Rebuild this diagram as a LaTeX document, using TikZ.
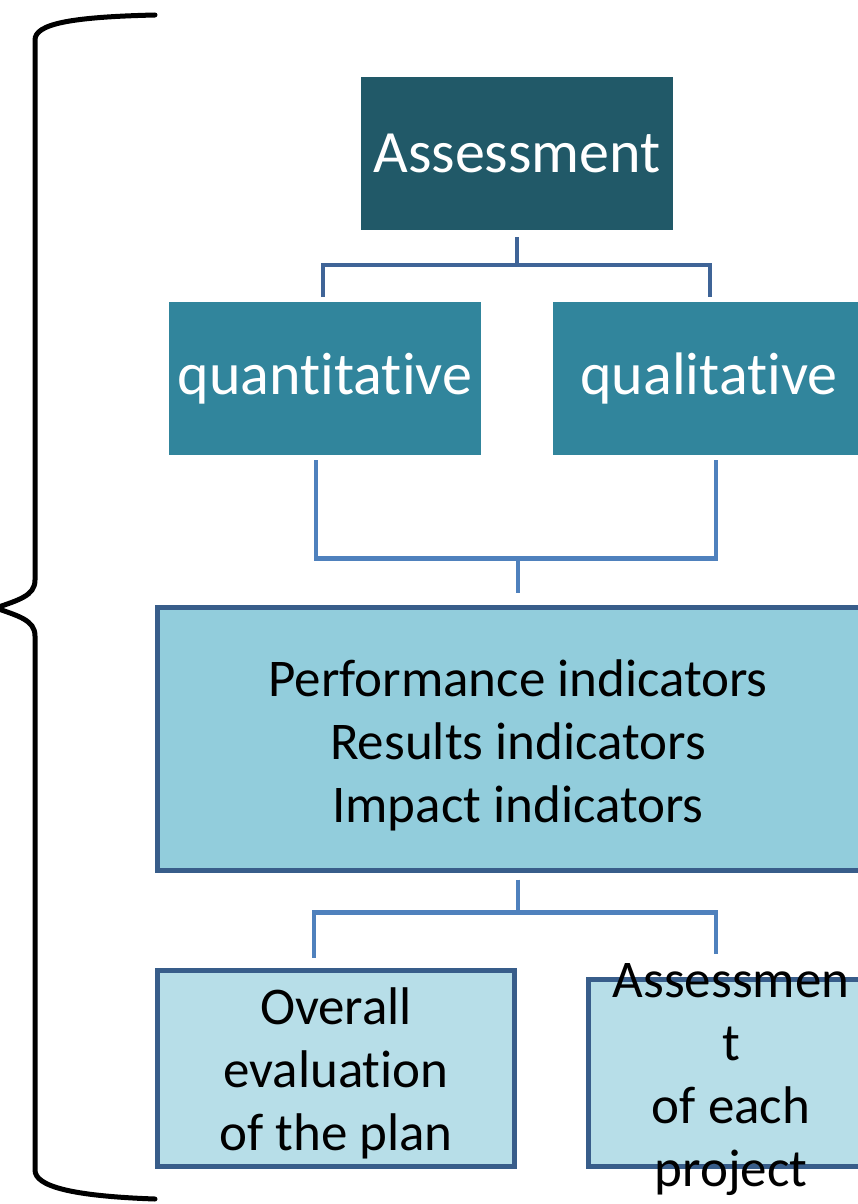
\documentclass[tikz,border=0pt]{standalone}
\usepackage{fontspec}
\setmainfont[Ligatures=NoCommon]{Carlito}
\usetikzlibrary{calc}
\definecolor{darkteal}{HTML}{215968}
\definecolor{midteal}{HTML}{31859C}
\definecolor{paleblue}{HTML}{92CDDC}
\definecolor{lightblue}{HTML}{B7DEE8}
\definecolor{edgeblue}{HTML}{385D8A}
\definecolor{linkdark}{HTML}{3F6497}
\definecolor{linkblue}{HTML}{4F81BD}
\begin{document}
\begin{tikzpicture}[x=1pt,y=-1pt,
  box/.style={rectangle, inner sep=0pt, outer sep=0pt, anchor=north west, align=center},
  headbox/.style={box, fill=darkteal, text=white, font=\fontsize{60}{72}\selectfont},
  kindbox/.style={box, fill=midteal, text=white, font=\fontsize{60}{72}\selectfont},
  listbox/.style={box, fill=paleblue, draw=edgeblue, line width=5pt},
  leafbox/.style={box, fill=lightblue, draw=edgeblue, line width=5pt},
  bodytext/.style={align=center, inner sep=0pt, font=\fontsize{53}{63}\selectfont},
  link/.style={line width=4.5pt, linkblue},
  bracepen/.style={line width=5pt, black, line cap=round}]
\useasboundingbox (0,0) rectangle (858,1204);
\clip (0,0) rectangle (858,1204);

% boxes
\node[headbox, minimum width=312pt, minimum height=153pt] (assess) at (361,77) {Assessment};
\node[kindbox, minimum width=312pt, minimum height=153pt] (quant) at (169,302) {quantitative};
\node[kindbox, minimum width=312pt, minimum height=153pt] (qual) at (553,302) {qualitative};
\node[listbox, minimum width=721pt, minimum height=263pt] (perf) at (157.5,607.5) {};
\node[bodytext] (perftext) at ($(perf.center)+(0,6)$)
  {Performance indicators\\Results indicators\\Impact indicators};
\node[leafbox, minimum width=357pt, minimum height=196pt] (overall) at (157.5,970.5) {};
\node[bodytext] (overalltext) at ($(overall.center)+(0,5)$)
  {Overall\\evaluation\\of the plan};
\node[leafbox, minimum width=291pt, minimum height=187pt] (proj) at (588.5,979.5) {};
\node[bodytext] (projtext) at ($(proj.center)+(-3,7)$)
  {Assessmen\\t\\of each\\project};

% connectors
\draw[link, linkdark] ($(assess.south)+(0,7)$) -- ($(assess.south)+(0,35)$) coordinate (topjoin);
\draw[link, linkdark] ($(quant.north)+(-2,-5)$) |- (topjoin) -| ($(qual.north)+(1,-5)$);

\coordinate (midjoin) at ($(perf.north)+(0,-49)$);
\draw[link] ($(quant.south)+(-9,5)$) |- (midjoin) -| ($(qual.south)+(7,5)$);
\draw[link] (midjoin) -- ($(perf.north)+(0,-15)$);

\coordinate (lowjoin) at ($(perf.south)+(0,42)$);
\draw[link] ($(perf.south)+(0,9)$) -- (lowjoin);
\draw[link] ($(overall.north)+(-22,-13)$) |- (lowjoin) -| ($(proj.north)+(-18,-26)$);

% left brace
\draw[bracepen] (155,15) .. controls (70,17) and (35,24) .. (35,40)
  -- (35,580) .. controls (35,596) and (18,600) .. (-4,608)
  .. controls (18,616) and (35,620) .. (35,636)
  -- (35,1170) .. controls (35,1186) and (70,1196) .. (155,1199);
\end{tikzpicture}
\end{document}
